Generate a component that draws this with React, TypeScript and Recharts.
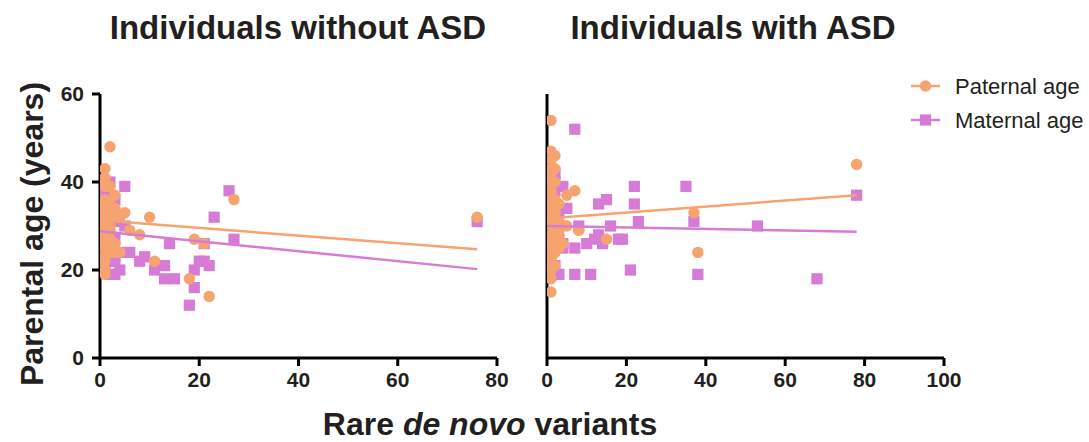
import React from 'react';
import { ScatterChart, Scatter, XAxis, YAxis } from 'recharts';

const ORANGE = '#F7A36F';
const VIOLET = '#D67CD7';
const FONT = '"Liberation Sans", Arial, Helvetica, sans-serif';

const panelTitles = ['Individuals without ASD', 'Individuals with ASD'];
const yLabel = 'Parental age (years)';
const legendLabels = ['Paternal age', 'Maternal age'];
const yTicks = [0, 20, 40, 60];
const leftXTicks = [0, 20, 40, 60, 80];
const rightXTicks = [0, 20, 40, 60, 80, 100];

// Individuals without ASD
const leftPaternal: number[][] = [
  [2, 48], [1, 43], [1, 41], [1, 40], [2, 39], [1, 39], [3, 37], [1, 36], [2, 35], [1, 35],
  [1, 34], [2, 34], [1, 33], [2, 33], [3, 33], [5, 33], [1, 32], [2, 32], [0, 31], [1, 31],
  [1, 30], [2, 30], [10, 32], [1, 29], [2, 29], [6, 29], [8, 28], [1, 28], [1, 27], [2, 27],
  [1, 26], [19, 27], [21, 26], [1, 25], [2, 25], [4, 24], [3, 24], [2, 24], [1, 23], [1, 22],
  [11, 22], [1, 20], [1, 19], [18, 18], [22, 14], [27, 36], [76, 32], [0, 35], [0, 28], [0, 22],
  [3, 26], [3, 34], [4, 32],
];
const leftMaternal: number[][] = [
  [5, 39], [2, 40], [1, 38], [1, 37], [3, 36], [1, 35], [0, 34], [1, 33], [2, 32], [3, 31],
  [5, 30], [1, 30], [2, 28], [0, 28], [3, 27], [1, 26], [2, 25], [1, 24], [3, 23], [2, 22],
  [3, 22], [1, 21], [4, 20], [3, 19], [2, 19], [1, 20], [0, 22], [23, 32], [26, 38], [14, 26],
  [21, 26], [27, 27], [6, 24], [9, 23], [8, 22], [13, 21], [11, 20], [13, 18], [15, 18], [20, 22],
  [21, 22], [22, 21], [19, 20], [19, 16], [18, 12], [76, 31], [4, 24], [2, 35], [1, 29],
];
const leftPaternalFit: number[][] = [[0, 31.3], [76, 24.7]];
const leftMaternalFit: number[][] = [[0, 28.8], [76, 20.2]];

// Individuals with ASD
const rightPaternal: number[][] = [
  [1, 54], [1, 47], [2, 46], [1, 45], [1, 43], [2, 43], [1, 42], [0, 41], [1, 40], [2, 40],
  [0, 39], [1, 38], [7, 38], [5, 37], [1, 37], [2, 36], [1, 35], [3, 35], [0, 34], [1, 33],
  [2, 33], [1, 32], [2, 32], [3, 31], [0, 31], [1, 30], [2, 30], [3, 29], [8, 29], [1, 28],
  [2, 28], [0, 27], [1, 27], [3, 27], [15, 27], [1, 26], [2, 26], [4, 26], [1, 25], [3, 25],
  [0, 24], [1, 24], [2, 24], [1, 23], [0, 22], [1, 22], [2, 21], [1, 20], [1, 18], [1, 15],
  [78, 44], [37, 33], [38, 24], [5, 30], [3, 31],
];
const rightMaternal: number[][] = [
  [7, 52], [22, 39], [22, 35], [13, 35], [15, 36], [23, 31], [16, 30], [8, 30], [18, 27], [19, 27],
  [13, 28], [12, 27], [10, 26], [14, 26], [7, 25], [4, 25], [5, 34], [21, 20], [3, 19], [7, 19],
  [11, 19], [78, 37], [37, 31], [53, 30], [38, 19], [68, 18], [35, 39], [1, 42], [2, 38], [1, 36],
  [3, 33], [1, 31], [2, 29], [1, 27], [3, 27], [1, 23], [2, 21], [0, 20], [1, 19], [2, 40],
  [4, 26], [2, 32], [2, 42], [4, 39],
];
const rightPaternalFit: number[][] = [[0, 31.7], [78, 37.0]];
const rightMaternalFit: number[][] = [[0, 30.0], [78, 28.7]];

const toPts = (a: number[][]) => a.map(([x, y]) => ({ x, y }));

const CircleShape = (p: any) => <circle cx={p.cx} cy={p.cy} r={5.7} fill={ORANGE} />;
const SquareShape = (p: any) => (
  <rect x={p.cx - 5.6} y={p.cy - 5.6} width={11.2} height={11.2} fill={VIOLET} />
);
const NoShape = () => <g />;

const axisLine = { stroke: '#000', strokeWidth: 3 };
const tickStyle = { fontSize: 21, fontWeight: 700, fill: '#231F20', fontFamily: FONT };

type PanelProps = {
  left: number;
  width: number;
  marginLeft: number;
  xTicks: number[];
  xMax: number;
  showYLabels: boolean;
  paternal: number[][];
  maternal: number[][];
  paternalFit: number[][];
  maternalFit: number[][];
};

function Panel(props: PanelProps) {
  return (
    <div style={{ position: 'absolute', left: props.left, top: 0 }}>
      <ScatterChart
        width={props.width}
        height={442}
        margin={{ top: 94, right: 40, bottom: 44, left: props.marginLeft }}
      >
        <XAxis
          type="number"
          dataKey="x"
          domain={[0, props.xMax]}
          ticks={props.xTicks}
          allowDataOverflow
          height={40}
          tickSize={8}
          tickMargin={6}
          axisLine={axisLine}
          tickLine={axisLine}
          tick={tickStyle}
          interval={0}
        />
        <YAxis
          type="number"
          dataKey="y"
          domain={[0, 60]}
          ticks={yTicks}
          allowDataOverflow
          width={60}
          tickSize={8}
          tickMargin={8}
          axisLine={axisLine}
          tickLine={axisLine}
          tick={props.showYLabels ? tickStyle : false}
          interval={0}
        />
        <Scatter
          data={toPts(props.maternal)}
          shape={SquareShape}
          isAnimationActive={false}
        />
        <Scatter
          data={toPts(props.paternal)}
          shape={CircleShape}
          isAnimationActive={false}
        />
        <Scatter
          data={toPts(props.paternalFit)}
          shape={NoShape}
          line={{ stroke: ORANGE, strokeWidth: 2.5 }}
          isAnimationActive={false}
        />
        <Scatter
          data={toPts(props.maternalFit)}
          shape={NoShape}
          line={{ stroke: VIOLET, strokeWidth: 2.5 }}
          isAnimationActive={false}
        />
      </ScatterChart>
    </div>
  );
}

export default function App() {
  return (
    <div
      style={{
        position: 'absolute',
        left: 0,
        top: 0,
        width: 1089,
        height: 442,
        background: '#fff',
        fontFamily: FONT,
        overflow: 'hidden',
      }}
    >
      <Panel
        left={0}
        width={537}
        marginLeft={40}
        xTicks={leftXTicks}
        xMax={80}
        showYLabels={true}
        paternal={leftPaternal}
        maternal={leftMaternal}
        paternalFit={leftPaternalFit}
        maternalFit={leftMaternalFit}
      />
      <Panel
        left={487}
        width={497}
        marginLeft={0}
        xTicks={rightXTicks}
        xMax={100}
        showYLabels={false}
        paternal={rightPaternal}
        maternal={rightMaternal}
        paternalFit={rightPaternalFit}
        maternalFit={rightMaternalFit}
      />
      <svg
        width={1089}
        height={442}
        style={{ position: 'absolute', left: 0, top: 0, pointerEvents: 'none' }}
      >
        <text x={298} y={39} textAnchor="middle" fontSize={33} fontWeight={700} fill="#231F20" fontFamily={FONT}>
          {panelTitles[0]}
        </text>
        <text x={733} y={39} textAnchor="middle" fontSize={33} fontWeight={700} fill="#231F20" fontFamily={FONT}>
          {panelTitles[1]}
        </text>
        <text
          x={0}
          y={0}
          transform="translate(43,234) rotate(-90)"
          textAnchor="middle"
          fontSize={32}
          fontWeight={700}
          fill="#231F20"
          fontFamily={FONT}
        >
          {yLabel}
        </text>
        <text x={490} y={435} textAnchor="middle" fontSize={32} fontWeight={700} fill="#231F20" fontFamily={FONT}>
          <tspan>Rare </tspan>
          <tspan fontStyle="italic">de novo</tspan>
          <tspan> variants</tspan>
        </text>
        <line x1={911} y1={86} x2={940} y2={86} stroke={ORANGE} strokeWidth={2.5} />
        <circle cx={925.5} cy={86} r={5.7} fill={ORANGE} />
        <text x={955} y={94} fontSize={22} fill="#231F20" fontFamily={FONT}>
          {legendLabels[0]}
        </text>
        <line x1={911} y1={120} x2={940} y2={120} stroke={VIOLET} strokeWidth={2.5} />
        <rect x={919.9} y={114.4} width={11.2} height={11.2} fill={VIOLET} />
        <text x={955} y={128} fontSize={22} fill="#231F20" fontFamily={FONT}>
          {legendLabels[1]}
        </text>
      </svg>
    </div>
  );
}
